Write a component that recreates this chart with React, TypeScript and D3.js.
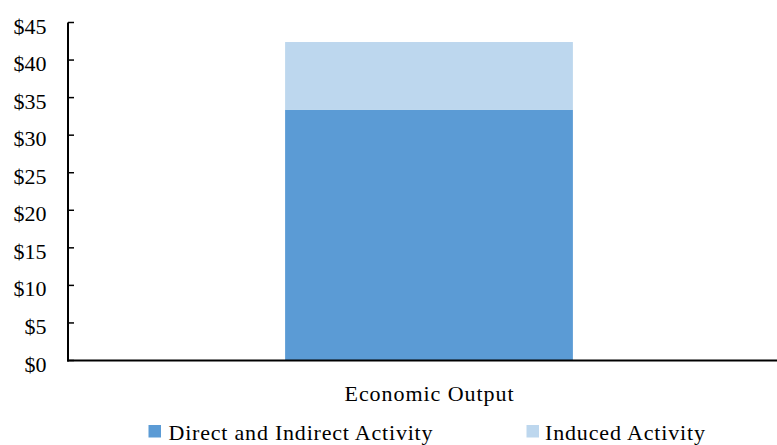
import React from "react";
import * as d3 from "d3";

const categories = ["Economic Output"];
const directIndirect = [33.4];
const induced = [9.0];
const yTicks = [0, 5, 10, 15, 20, 25, 30, 35, 40, 45];
const seriesNames = ["Direct and Indirect Activity", "Induced Activity"];
const seriesColors = ["#5B9BD5", "#BDD7EE"];

const W = 777;
const H = 445;
const FONT = "'Liberation Serif', 'Times New Roman', serif";

export default function App() {
  const y = d3.scaleLinear().domain([0, 45]).range([360.5, 22.5]);
  const x = d3.scaleBand<string>().domain(categories).range([68, 790]).padding(0.43);

  const rows = categories.map((c, i) => ({ cat: c, direct: directIndirect[i], induced: induced[i] }));
  const stack = d3.stack<any>().keys(["direct", "induced"])(rows);

  const legendItems = [
    { name: seriesNames[0], color: seriesColors[0], sx: 148.5, tx: 168.5, tl: 264 },
    { name: seriesNames[1], color: seriesColors[1], sx: 526.5, tx: 545, tl: 160 },
  ];

  return (
    <svg
      width={W}
      height={H}
      style={{ position: "absolute", left: 0, top: 0, background: "#fff" }}
      fontFamily={FONT}
    >
      {stack.map((s, si) =>
        s.map((d, di) => (
          <rect
            key={`${si}-${di}`}
            x={x(rows[di].cat)}
            width={x.bandwidth()}
            y={y(d[1])}
            height={y(d[0]) - y(d[1])}
            fill={seriesColors[si]}
          />
        ))
      )}
      {/* y axis */}
      <line x1={68} x2={68} y1={y(45)} y2={y(0) + 1} stroke="#000" strokeWidth={2} />
      {yTicks.map((t) => (
        <g key={t}>
          <line x1={68} x2={74} y1={y(t)} y2={y(t)} stroke="#000" strokeWidth={1.5} />
          <text x={46.5} y={y(t) + 11} textAnchor="end" fontSize={22} fill="#000">
            {`$${t}`}
          </text>
        </g>
      ))}
      {/* x axis */}
      <line x1={67} x2={W} y1={y(0)} y2={y(0)} stroke="#000" strokeWidth={2} />
      {categories.map((c) => (
        <text
          key={c}
          x={(x(c) as number) + x.bandwidth() / 2}
          y={400.7}
          textAnchor="middle"
          fontSize={22}
          fill="#000"
          textLength={169}
          lengthAdjust="spacing"
        >
          {c}
        </text>
      ))}
      {/* legend */}
      {legendItems.map((l) => (
        <g key={l.name}>
          <rect x={l.sx} y={425} width={12.5} height={12.5} fill={l.color} />
          <text x={l.tx} y={440} fontSize={22} fill="#000" textLength={l.tl} lengthAdjust="spacing">
            {l.name}
          </text>
        </g>
      ))}
    </svg>
  );
}
